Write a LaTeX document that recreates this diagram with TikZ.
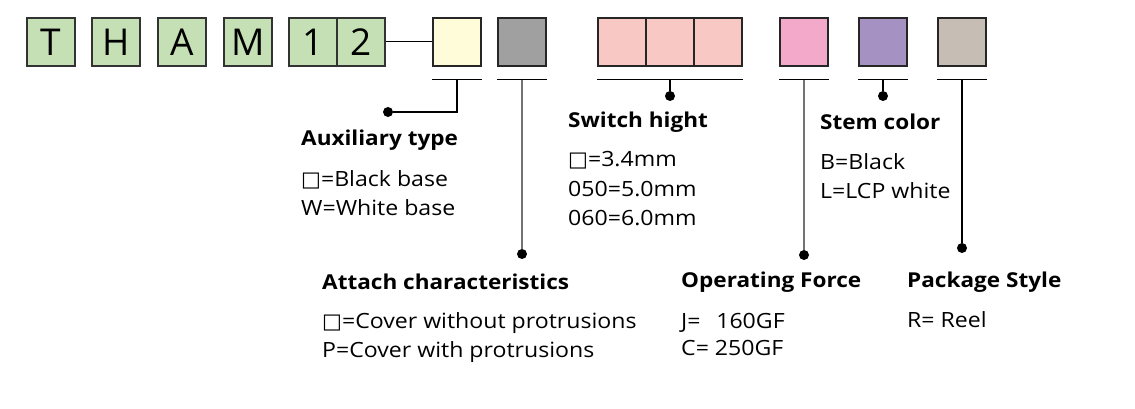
\documentclass[tikz,border=0pt]{standalone}
\usepackage{fontspec}
\setmainfont{Open Sans}[FakeStretch=1.1]
\newfontfamily\boxfont{Open Sans}
\newfontfamily\symfont{DejaVu Sans}
\definecolor{codegreen}{HTML}{C5E0B4}
\definecolor{auxyellow}{HTML}{FFFCD9}
\definecolor{attgray}{HTML}{A0A0A0}
\definecolor{hightpink}{HTML}{F8C9C4}
\definecolor{forcepink}{HTML}{F3A9C9}
\definecolor{stempurple}{HTML}{A592C3}
\definecolor{packtaupe}{HTML}{C6BEB5}
\newcommand{\blank}{{\symfont □}}
\tikzset{
  letter/.style={draw=black!80, fill=codegreen, line width=1.2pt, minimum width=48pt, minimum height=48pt, inner sep=0pt, font=\boxfont\fontsize{37}{37}\selectfont},
  cell/.style={draw=black!85, line width=1.2pt, minimum width=48pt, minimum height=48pt, inner sep=0pt},
  title/.style={anchor=base west, inner sep=0pt, font=\fontsize{20.5}{24}\selectfont\bfseries},
  option/.style={anchor=base west, inner sep=0pt, font=\fontsize{21}{24}\selectfont},
  dot/.style={circle, fill=black, inner sep=0pt, minimum size=10pt},
}
\begin{document}
\begin{tikzpicture}[x=1pt,y=-1pt]
\useasboundingbox (0,0) rectangle (1135,409);
% code letters
\node[letter] (t) at (51,42) {T};
\node[letter] (h) at (116,42) {H};
\node[letter] (a) at (182,42) {A};
\node[letter] (m) at (248,42) {M};
\node[letter] (one) at (313,42) {1};
\node[letter] (two) at (361,42) {2};
% option cells
\node[cell, fill=auxyellow] (aux) at (457,42) {};
\node[cell, fill=attgray] (att) at (522,42) {};
\node[cell, fill=hightpink] (hA) at (622,42) {};
\node[cell, fill=hightpink] (hB) at (670,42) {};
\node[cell, fill=hightpink] (hC) at (718,42) {};
\node[cell, fill=forcepink] (force) at (804,42) {};
\node[cell, fill=stempurple] (stem) at (883,42) {};
\node[cell, fill=packtaupe] (pack) at (962,42) {};
\draw[line width=1pt] (two.east) -- (aux.west);
% underlines
\draw[line width=1pt] ([yshift=-13pt]aux.south west) -- ([yshift=-13pt]aux.south east);
\draw[line width=1pt] ([yshift=-13pt]att.south west) -- ([yshift=-13pt]att.south east);
\draw[line width=1pt] ([yshift=-13pt]hA.south west) -- ([yshift=-13pt]hC.south east);
\draw[line width=1pt] ([yshift=-13pt]force.south west) -- ([yshift=-13pt]force.south east);
\draw[line width=1pt] ([yshift=-13pt]stem.south west) -- ([yshift=-13pt]stem.south east);
\draw[line width=1pt] ([yshift=-13pt]pack.south west) -- ([yshift=-13pt]pack.south east);
% dots
\node[dot] (auxdot) at (388,112) {};
\node[dot] (attdot) at (522,254) {};
\node[dot] (hightdot) at (670,96) {};
\node[dot] (forcedot) at (804,255) {};
\node[dot] (stemdot) at (883,96) {};
\node[dot] (packdot) at (962,248) {};
% leaders
\draw[line width=1.2pt] ([yshift=-13pt]aux.south) |- (auxdot);
\draw[line width=1.2pt, black!55] ([yshift=-13pt]att.south) -- (attdot);
\draw[line width=1.2pt] ([yshift=-13pt]hB.south) -- (hightdot);
\draw[line width=1.2pt, black!55] ([yshift=-13pt]force.south) -- (forcedot);
\draw[line width=1.2pt] ([yshift=-13pt]stem.south) -- (stemdot);
\draw[line width=1.2pt] ([yshift=-13pt]pack.south) -- (packdot);
% auxiliary type
\node[title] (auxT) at (301,146) {Auxiliary type};
\node[option] (auxA) at (301,186) {\blank=Black base};
\node[option] (auxB) at (301,215) {W=White base};
% attach characteristics
\node[title] (attT) at (322,289) {Attach characteristics};
\node[option] (attA) at (322,328) {\blank=Cover without protrusions};
\node[option] (attB) at (322,357) {P=Cover with protrusions};
% switch hight
\node[title] (hightT) at (568,128) {Switch hight};
\node[option] (hightA) at (568,167) {\blank=3.4mm};
\node[option] (hightB) at (568,196) {050=5.0mm};
\node[option] (hightC) at (568,225) {060=6.0mm};
% operating force
\node[title] (forceT) at (681,287) {Operating Force};
\node[option] (forceA) at (681,328) {J=\hspace{0.75em}160GF};
\node[option] (forceB) at (681,355) {C= 250GF};
% stem color
\node[title] (stemT) at (820,130) {Stem color};
\node[option] (stemA) at (820,169) {B=Black};
\node[option] (stemB) at (820,198) {L=LCP white};
% package style
\node[title] (packT) at (907,287) {Package Style};
\node[option] (packA) at (907,327) {R= Reel};
\end{tikzpicture}
\end{document}
